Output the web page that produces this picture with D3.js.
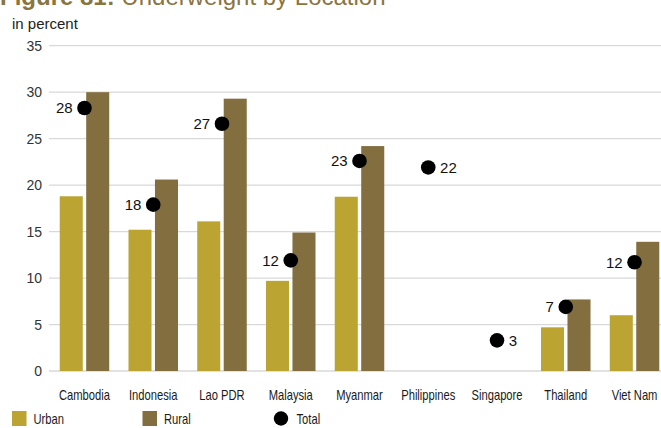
<!DOCTYPE html>
<html><head><meta charset="utf-8">
<script src="https://cdn.jsdelivr.net/npm/d3@7"></script>
<style>
body{margin:0;background:#fff;}
svg{display:block;}
</style></head>
<body>
<svg id="chart" width="661" height="428"></svg>
<script>
const categories = ["Cambodia","Indonesia","Lao PDR","Malaysia","Myanmar","Philippines","Singapore","Thailand","Viet Nam"];
const urban = [18.8, 15.2, 16.1, 9.7, 18.75, null, null, 4.7, 6.0];
const rural = [30.0, 20.6, 29.3, 14.9, 24.2, null, null, 7.7, 13.9];
const total = [28.3, 17.9, 26.6, 11.9, 22.6, 21.9, 3.3, 6.9, 11.7];
const totalLabels = ["28","18","27","12","23","22","3","7","12"];
const labelSide = ["left","left","left","left","left","right","right","left","left"];
const yTicks = [0,5,10,15,20,25,30,35];
const seriesNames = ["Urban","Rural","Total"];
const colors = {Urban:"#BBA432", Rural:"#826E3E", Total:"#000000"};

const svg = d3.select("#chart");
const reg = "'Liberation Sans',Arial,Helvetica,sans-serif";
const squeeze = 0.8;

const x0 = d3.scaleBand().domain(categories).range([50.1, 668.9]).paddingInner(0).paddingOuter(0);
const y = d3.scaleLinear().domain([0,35]).range([371, 45.7]);

// title (partially cut off at top, as in the reference)
const title = svg.append("text").attr("x",0).attr("y",5)
  .attr("font-family",reg).attr("font-size",24).attr("fill","#8A7440");
title.append("tspan").attr("font-weight","bold").text("Figure 81: ");
title.append("tspan").attr("font-weight","normal").text("Underweight by Location");

svg.append("text").attr("x",12).attr("y",29).attr("font-family",reg)
  .attr("font-size",15).attr("fill","#222").text("in percent");

// gridlines
svg.append("g").selectAll("line").data(yTicks).join("line")
  .attr("x1",49).attr("x2",661)
  .attr("y1",d=>y(d)).attr("y2",d=>y(d))
  .attr("stroke","#d9d9d9").attr("stroke-width",1.3);

// y axis labels
const yAxis = d3.axisLeft(y).tickValues(yTicks).tickSize(0).tickPadding(0);
const gy = svg.append("g").attr("transform","translate(42,0)").call(yAxis);
gy.select(".domain").remove();
gy.selectAll("text").attr("font-family",reg).attr("font-size",14).attr("fill","#333");

// bars
const x1 = d3.scaleBand().domain(["Urban","Rural"]).range([-24.75, 24.75]).paddingInner(0.13).paddingOuter(0);
const barData = [];
categories.forEach((c,i)=>{
  if(urban[i]!=null) barData.push({c, s:"Urban", v:urban[i]});
  if(rural[i]!=null) barData.push({c, s:"Rural", v:rural[i]});
});
svg.append("g").selectAll("rect").data(barData).join("rect")
  .attr("x",d=>x0(d.c)+x0.bandwidth()/2+x1(d.s))
  .attr("width",x1.bandwidth())
  .attr("y",d=>y(d.v))
  .attr("height",d=>y(0)-y(d.v))
  .attr("fill",d=>colors[d.s]);

// x labels (condensed)
const xAxis = d3.axisBottom(x0).tickSize(0).tickPadding(0);
const gx = svg.append("g").attr("transform","translate(0,400)").call(xAxis);
gx.select(".domain").remove();
gx.selectAll("text").attr("font-family",reg).attr("font-size",14).attr("fill","#1a1a1a")
  .attr("y",0).attr("dy",0).attr("transform",`scale(${squeeze},1)`);

// total dots
const r = 7.3;
const dots = svg.append("g").selectAll("g").data(categories).join("g");
dots.append("circle")
  .attr("cx",d=>x0(d)+x0.bandwidth()/2)
  .attr("cy",(d,i)=>y(total[i]))
  .attr("r",r).attr("fill",colors.Total);
dots.append("text")
  .attr("x",(d,i)=>labelSide[i]==="left" ? x0(d)+x0.bandwidth()/2-r-4.5 : x0(d)+x0.bandwidth()/2+r+4.5)
  .attr("y",(d,i)=>y(total[i]))
  .attr("dy","0.36em")
  .attr("text-anchor",(d,i)=>labelSide[i]==="left"?"end":"start")
  .attr("font-family",reg).attr("font-size",15).attr("fill","#111")
  .text((d,i)=>totalLabels[i]);

// legend
const legX = [12, 142.5, 274];
const leg = svg.append("g").selectAll("g").data(seriesNames).join("g")
  .attr("transform",(d,i)=>`translate(${legX[i]},411)`);
leg.filter(d=>d!=="Total").append("rect").attr("width",14.5).attr("height",15).attr("fill",d=>colors[d]);
leg.filter(d=>d==="Total").append("circle").attr("cx",7).attr("cy",7.5).attr("r",7.2).attr("fill",colors.Total);
leg.append("text")
  .attr("transform",d=>`translate(${d==="Total"?22.5:21.5},13) scale(${squeeze},1)`)
  .attr("font-family",reg).attr("font-size",14).attr("fill","#1a1a1a").text(d=>d);
</script>
</body></html>
